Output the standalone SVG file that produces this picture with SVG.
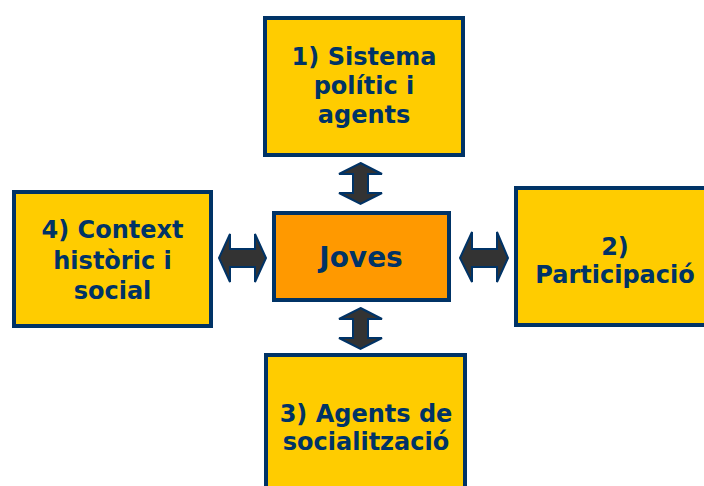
<svg xmlns="http://www.w3.org/2000/svg" width="704" height="486" viewBox="0 0 704 486">
<style>
.box{fill:#FFCC00;stroke:#003366;stroke-width:4}
.core{fill:#FF9900;stroke:#003366;stroke-width:4}
.t{font-family:"DejaVu Sans",Verdana,sans-serif;font-weight:bold;font-size:24px;fill:#003366;text-anchor:middle}
.arr{fill:#333333;stroke:#003366;stroke-width:2;stroke-linejoin:miter}
</style>
<rect width="704" height="486" fill="#FFFFFF"/>
<g id="connectors">
<polygon class="arr" points="360.5,163 382,174 368,174 368,193 382,193 360.5,204 339,193 353,193 353,174 339,174"/>
<polygon class="arr" points="360.5,308 382,319 368,319 368,338 382,338 360.5,349 339,338 353,338 353,319 339,319"/>
<polygon class="arr" points="219,258 230,234 230,249 255,249 255,234 266,258 255,282 255,267 230,267 230,282"/>
<polygon class="arr" points="460,258 472,232 472,249 497,249 497,232 508,258 497,282 497,267 472,267 472,282"/>
</g>
<g id="node-1">
<rect class="box" x="265" y="18" width="198" height="137"/>
<text class="t" x="364" y="65">1) Sistema</text>
<text class="t" x="364" y="94">polític i</text>
<text class="t" x="364" y="123">agents</text>
</g>
<g id="node-2">
<rect class="box" x="516" y="188" width="200" height="137"/>
<text class="t" x="615" y="255">2)</text>
<text class="t" x="615" y="283">Participació</text>
</g>
<g id="node-3">
<rect class="box" x="266" y="355" width="199" height="140"/>
<text class="t" x="366" y="422">3) Agents de</text>
<text class="t" x="366" y="450">socialització</text>
</g>
<g id="node-4">
<rect class="box" x="14" y="192" width="197" height="134"/>
<text class="t" x="112.5" y="238">4) Context</text>
<text class="t" x="112.5" y="269">històric i</text>
<text class="t" x="112.5" y="299">social</text>
</g>
<g id="node-joves">
<rect class="core" x="274" y="213" width="175" height="87"/>
<text class="t" x="361" y="267" style="font-size:28px">Joves</text>
</g>
</svg>
